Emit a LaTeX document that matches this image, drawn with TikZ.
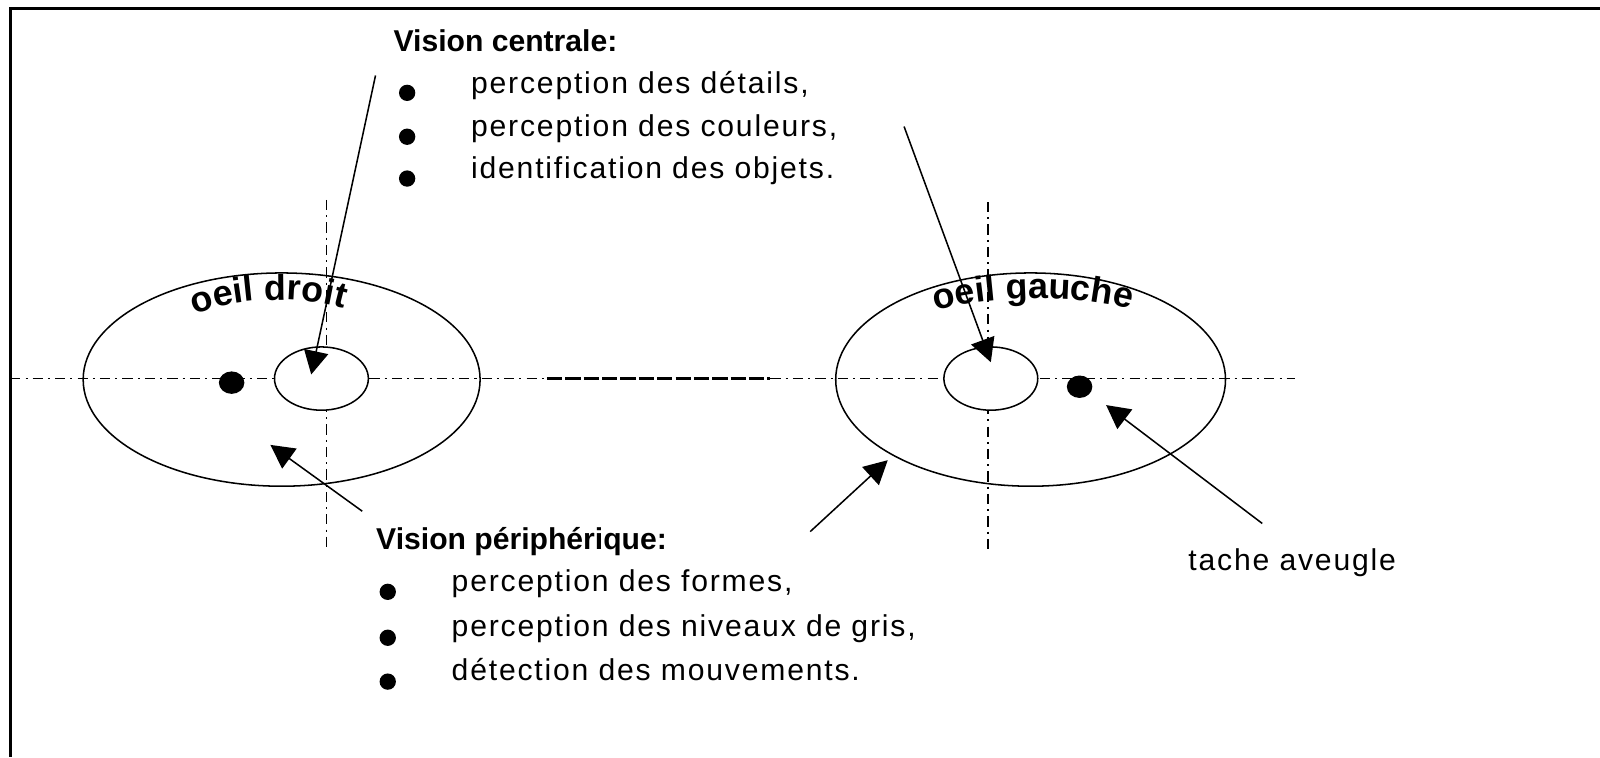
\documentclass[tikz,border=0pt]{standalone}
\usepackage{fontspec}
\setmainfont{Liberation Sans}
\newfontfamily\regfont[LetterSpace=6]{Liberation Sans}
\usetikzlibrary{arrows.meta,shapes.geometric,decorations.text}
\newcommand\eyefont{\bfseries\fontsize{10}{12}\selectfont}
\begin{document}
\begin{tikzpicture}[x=0.1mm,y=-0.1mm,
  txt/.style={anchor=base west,inner sep=0pt,font=\regfont\fontsize{8.4}{10}\selectfont},
  head/.style={anchor=base west,inner sep=0pt,font=\bfseries\fontsize{8.4}{10}\selectfont},
  bul/.style={circle,fill=black,inner sep=0pt,minimum size=1.6mm},
  spot/.style={ellipse,fill=black,inner sep=0pt,minimum width=2.5mm,minimum height=2.2mm},
  outer/.style={ellipse,draw,line width=0.15mm,inner sep=0pt,minimum height=20.9mm},
  inner/.style={ellipse,draw,fill=white,line width=0.15mm,inner sep=0pt,minimum width=9.2mm,minimum height=6.2mm},
  axis/.style={line width=0.15mm,dash pattern=on 1mm off 0.5mm on 0.2mm off 0.5mm},
  dense/.style={line width=0.35mm,dash pattern=on 1.5mm off 0.3mm},
  ptr/.style={line width=0.15mm,-{Triangle[length=2.3mm,width=2.4mm]}},
  frame/.style={line width=0.3mm}
]
\useasboundingbox (0,0) rectangle (1568,742);
% frame
\coordinate (fTR) at (1568,8);
\coordinate (fTL) at (10,8);
\coordinate (fBL) at (10,742);
\draw[frame] (fTR) -- (fTL) -- (fBL);
% axes
\coordinate (h0) at (10,371);
\coordinate (h1) at (536,371);
\coordinate (h2) at (755,371);
\coordinate (h3) at (1269,371);
\draw[axis] (h0) -- (h1);
\draw[dense] (h1) -- (h2);
\draw[axis] (h2) -- (h3);
\coordinate (vL0) at (320,196);
\coordinate (vL1) at (320,539);
\coordinate (vR0) at (968,198);
\coordinate (vR1) at (968,542);
\draw[axis] (vL0) -- (vL1);
\draw[axis] (vR0) -- (vR1);
% eyes
\node[outer,minimum width=38.9mm] (LO) at (276,372) {};
\node[outer,minimum width=38.2mm] (RO) at (1010,372) {};
\node[inner] (LI) at (315,371) {};
\node[inner] (RI) at (971,371) {};
\node[spot] (LS) at (227,375) {};
\node[spot] (RS) at (1058,379) {};
% curved labels
\path[decorate,decoration={text along path,text={|\eyefont|oeil droit},text align=center}]
  (180,313) .. controls (225,290) and (300,288) .. (348,306);
\path[decorate,decoration={text along path,text={|\eyefont|oeil gauche},text align=center}]
  (908,307) .. controls (965,289) and (1060,287) .. (1117,306);
% central vision text
\node[head] (vc) at (385,50) {Vision centrale:};
\node[bul] (b1) at (399,91) {};
\node[bul] (b2) at (399,134) {};
\node[bul] (b3) at (399,175) {};
\node[txt] (t1) at (461,92) {perception des détails,};
\node[txt] (t2) at (461,134) {perception des couleurs,};
\node[txt] (t3) at (461,175) {identification des objets.};
% peripheral vision text
\node[head] (vp) at (368,539) {Vision périphérique:};
\node[bul] (b4) at (380,580) {};
\node[bul] (b5) at (380,625) {};
\node[bul] (b6) at (380,668) {};
\node[txt] (t4) at (442,580) {perception des formes,};
\node[txt] (t5) at (442,624) {perception des niveaux de gris,};
\node[txt] (t6) at (442,667) {détection des mouvements.};
\node[txt] (ta) at (1164,559) {tache aveugle};
% arrows
\coordinate (a1s) at (368,74);
\coordinate (a1e) at (305,367);
\coordinate (a2s) at (886,124);
\coordinate (a2e) at (971,355);
\coordinate (a3s) at (355,501);
\coordinate (a3e) at (265,436);
\coordinate (a4s) at (794,521);
\coordinate (a4e) at (870,451);
\coordinate (a5s) at (1237,513);
\coordinate (a5e) at (1084,397);
\draw[ptr] (a1s) -- (a1e);
\draw[ptr] (a2s) -- (a2e);
\draw[ptr] (a3s) -- (a3e);
\draw[ptr] (a4s) -- (a4e);
\draw[ptr] (a5s) -- (a5e);
\end{tikzpicture}
\end{document}
